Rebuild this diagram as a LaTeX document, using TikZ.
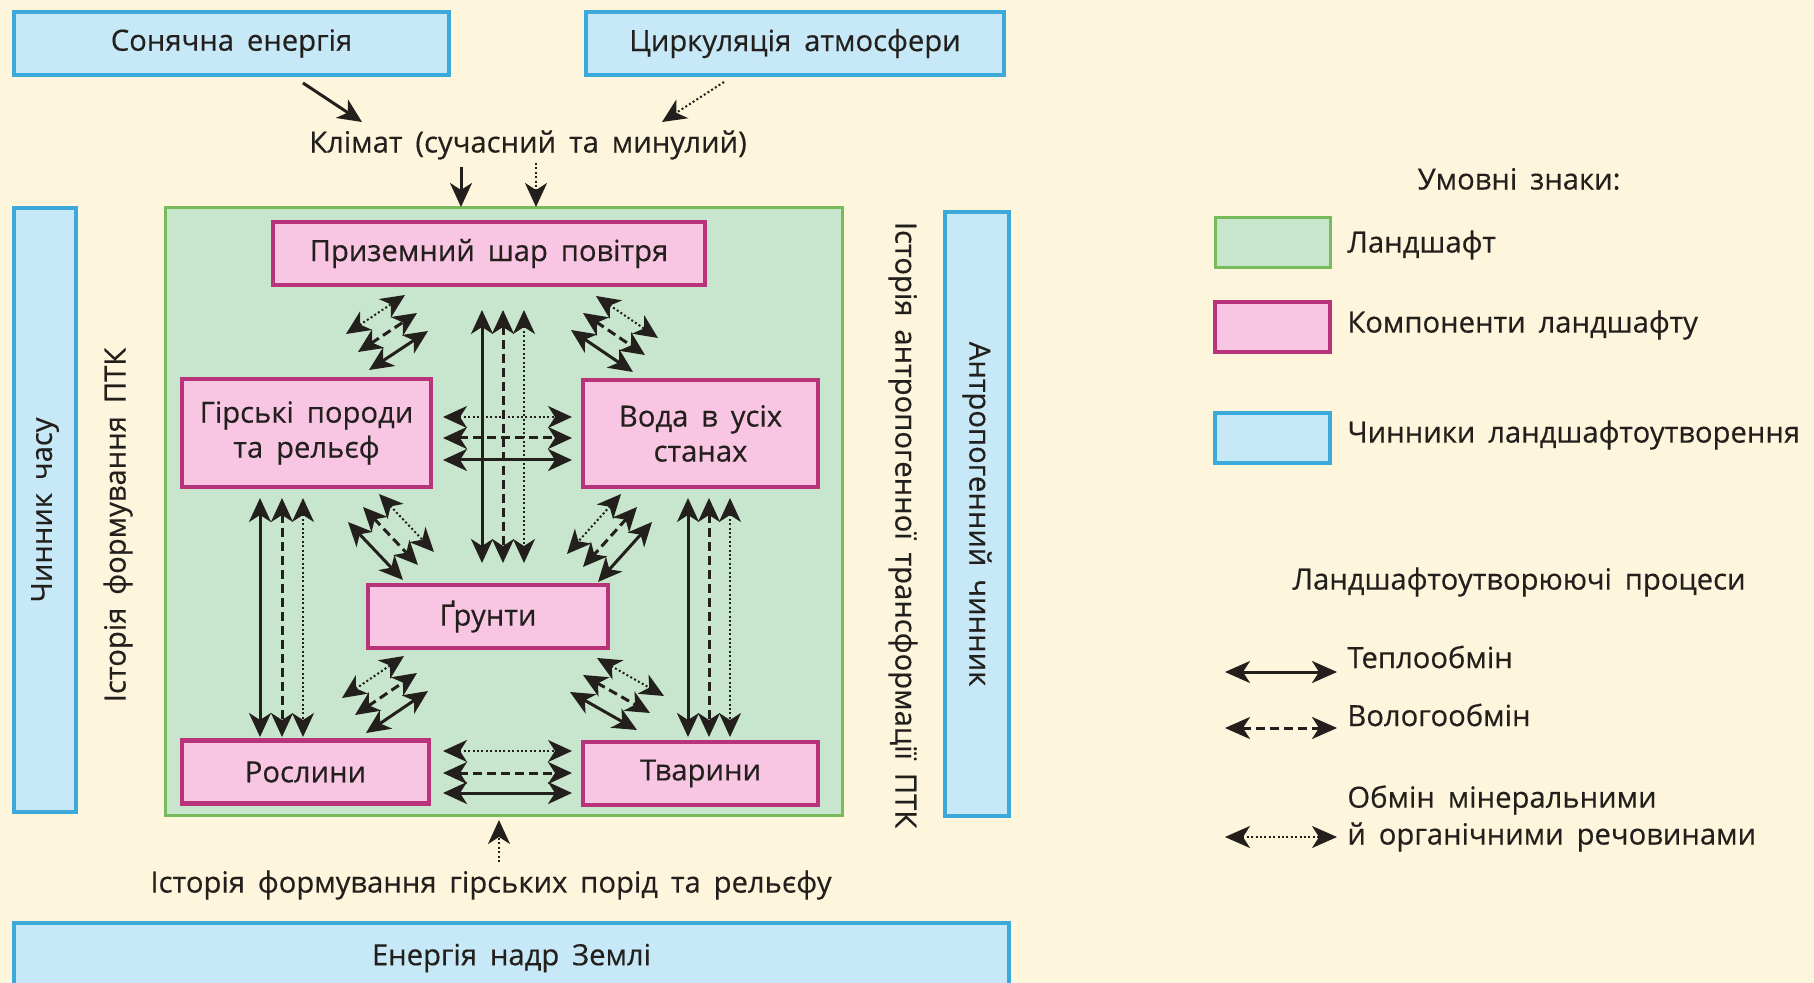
\documentclass[tikz,border=0pt]{standalone}
\usepackage{fontspec}
\setmainfont{Open Sans}[WordSpace=1.7, FakeBold=0.4]
\usetikzlibrary{arrows.meta,calc}
\definecolor{bg}{HTML}{FDF5DC}
\definecolor{bluefill}{HTML}{C6E8F7}
\definecolor{blueline}{HTML}{3BA9DA}
\definecolor{greenfill}{HTML}{C8E5CD}
\definecolor{greenline}{HTML}{78BB5C}
\definecolor{pinkfill}{HTML}{F8C6E2}
\definecolor{pinkline}{HTML}{B8337A}
\definecolor{ink}{HTML}{231F1C}
\newcommand\tribundle[4]{%
  \draw[heat] ($(#1)+#3$) -- ($(#2)+#3$);
  \draw[moist] (#1) -- (#2);
  \draw[mineral] ($(#1)+#4$) -- ($(#2)+#4$);}
\tikzset{
  myhead/.tip={Stealth[length=12pt,width=11pt,inset=3.5pt]},
  bighead/.tip={Stealth[length=12.5pt,width=11pt,inset=3.5pt]},
  txt/.style={text=ink, inner sep=0pt, font=\fontsize{14.6}{17.5}\selectfont},
  factor/.style={draw=blueline, fill=bluefill, line width=1.7pt, inner sep=0pt, txt},
  comp/.style={draw=pinkline, fill=pinkfill, line width=2.3pt, inner sep=0pt, align=center, txt},
  land/.style={draw=greenline, fill=greenfill, line width=1.5pt, inner sep=0pt},
  heat/.style={draw=ink, line width=1.5pt, myhead-myhead},
  moist/.style={heat, dash pattern=on 4.5pt off 2.5pt},
  mineral/.style={heat, line width=1pt, dash pattern=on 1pt off 1.2pt},
}
\begin{document}
\begin{tikzpicture}[x=0.5pt,y=-0.5pt]
\useasboundingbox (0,0) rectangle (1814,983);
\clip (0,0) rectangle (1814,983);
\fill[bg] (0,0) rectangle (1814,983);

% factor boxes
\node[factor, minimum width=217.5pt, minimum height=31.5pt] (sun) at (231.5,43.5) {Сонячна енергія};
\node[factor, minimum width=209pt, minimum height=31.5pt] (circ) at (795,43.5) {Циркуляція атмосфери};
\node[factor, minimum width=31pt, minimum height=302pt] (time) at (45,510) {};
\node[txt, rotate=90] (timet) at (45,510) {Чинник часу};
\node[factor, minimum width=32pt, minimum height=302pt] (anthro) at (977,514) {};
\node[txt, rotate=-90] (anthrot) at (977,514) {Антропогенний чинник};
\node[factor, minimum width=497.5pt, minimum height=35pt] (earth) at (511.5,958) {Енергія надр Землі};

% landscape
\node[land, minimum width=338.5pt, minimum height=303.5pt] (land) at (503.5,511.5) {};

% components
\node[comp, minimum width=216pt, minimum height=31.5pt] (air) at (489,253.5) {Приземний шар повітря};
\node[comp, minimum width=124.5pt, minimum height=54pt] (rocks) at (306.5,433) {Гірські породи\\та рельєф};
\node[comp, minimum width=117.5pt, minimum height=53.5pt] (water) at (700.5,433.5) {Вода в усіх\\станах};
\node[comp, minimum width=120pt, minimum height=31.5pt] (soil) at (488,616.5) {Ґрунти};
\node[comp, minimum width=123.5pt, minimum height=31.5pt] (plants) at (305.5,772) {Рослини};
\node[comp, minimum width=117.5pt, minimum height=31.5pt] (animals) at (700.5,773.5) {Тварини};

% outer texts
\node[txt] (clim) at (528,145) {Клімат (сучасний та минулий)};
\node[txt] (hist) at (491,885) {Історія формування гірських порід та рельєфу};
\node[txt, rotate=90] (histptk) at (118,525) {Історія формування ПТК};
\node[txt, rotate=-90] (anthhist) at (903,525) {Історія антропогенної трансформації ПТК};

% outer arrows
\coordinate (s1) at (303,83); \coordinate (s2) at (362,122);
\coordinate (c1) at (724,82); \coordinate (c2) at (662,122);
\coordinate (k1) at (461,167); \coordinate (k2) at (461,207);
\coordinate (k3) at (536,163); \coordinate (k4) at (536,207);
\coordinate (h1) at (499,862); \coordinate (h2) at (499,820);
\draw[heat, -myhead] (s1) -- (s2);
\draw[mineral, -myhead] (c1) -- (c2);
\draw[heat, -myhead] (k1) -- (k2);
\draw[mineral, -myhead] (k3) -- (k4);
\draw[mineral, -myhead] (h1) -- (h2);

% bundles of exchange arrows
\coordinate (g1a) at (503,310); \coordinate (g1b) at (503,563);
\tribundle{g1a}{g1b}{(-21,0)}{(21,0)}
\coordinate (g2a) at (443,438); \coordinate (g2b) at (572,438);
\tribundle{g2a}{g2b}{(0,22)}{(0,-21)}
\coordinate (g3a) at (443,773); \coordinate (g3b) at (572,773);
\tribundle{g3a}{g3b}{(0,20)}{(0,-22)}
\coordinate (g4a) at (282,498); \coordinate (g4b) at (282,737);
\tribundle{g4a}{g4b}{(-22,0)}{(21,0)}
\coordinate (g5a) at (709,498); \coordinate (g5b) at (709,737);
\tribundle{g5a}{g5b}{(-21,0)}{(21,0)}
\coordinate (g6a) at (358,352); \coordinate (g6b) at (417,313);
\tribundle{g6a}{g6b}{(11,18)}{(-12,-18)}
\coordinate (g7a) at (583,313); \coordinate (g7b) at (645,355);
\tribundle{g7a}{g7b}{(-12,17)}{(13,-17)}
\coordinate (g8a) at (363,507); \coordinate (g8b) at (418,565);
\tribundle{g8a}{g8b}{(-15,15)}{(16,-13)}
\coordinate (g9a) at (637,507); \coordinate (g9b) at (583,567);
\tribundle{g9a}{g9b}{(15,15)}{(-16,-13)}
\coordinate (g10a) at (355,715); \coordinate (g10b) at (417,673);
\tribundle{g10a}{g10b}{(11,18)}{(-13,-17)}
\coordinate (g11a) at (583,675); \coordinate (g11b) at (650,713);
\tribundle{g11a}{g11b}{(-13,17)}{(14,-17)}

% legend
\node[txt] (legt) at (1519,179) {Умовні знаки:};
\node[land, minimum width=57.5pt, minimum height=25pt] (lg) at (1272.5,243) {};
\node[comp, line width=1.6pt, minimum width=57.5pt, minimum height=25pt] (lp) at (1272.5,327) {};
\node[factor, minimum width=57.5pt, minimum height=25pt] (lb) at (1272.5,438) {};
\node[txt, anchor=west] (lgt) at (1347,245) {Ландшафт};
\node[txt, anchor=west] (lpt) at (1347,325) {Компоненти ландшафту};
\node[txt, anchor=west] (lbt) at (1347,435) {Чинники ландшафтоутворення};
\node[txt] (proc) at (1519,582) {Ландшафтоутворюючі процеси};
\coordinate (la1) at (1225,672); \coordinate (la2) at (1337,672);
\coordinate (lb1) at (1225,728); \coordinate (lb2) at (1337,728);
\coordinate (lc1) at (1225,837); \coordinate (lc2) at (1337,837);
\draw[heat, bighead-bighead] (la1) -- (la2);
\draw[moist, bighead-bighead] (lb1) -- (lb2);
\draw[mineral, bighead-bighead] (lc1) -- (lc2);
\node[txt, anchor=west] (t1) at (1347,657) {Теплообмін};
\node[txt, anchor=west] (t2) at (1347,715) {Вологообмін};
\node[txt, anchor=west] (t3) at (1347,800) {Обмін мінеральними};
\node[txt, anchor=west] (t4) at (1347,837) {й органічними речовинами};
\end{tikzpicture}
\end{document}
